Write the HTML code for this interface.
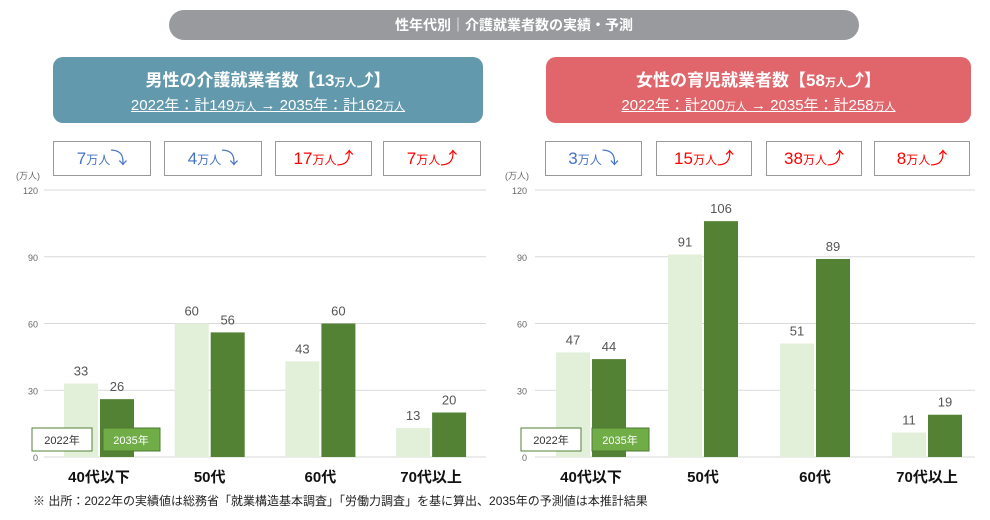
<!DOCTYPE html>
<html><head><meta charset="utf-8"><style>
body{margin:0;width:990px;height:520px;background:#fff;font-family:"Liberation Sans","Noto Sans CJK JP",sans-serif;position:relative;overflow:hidden}
.abs{position:absolute}
.pill{left:169px;top:10px;width:690px;height:30px;background:#999a9d;border-radius:15px;color:#fff;font-size:14px;font-weight:bold;text-align:center;line-height:30px}
.hdr{top:57px;height:66px;border-radius:10px;color:#fff;text-align:center}
.hdr .t{font-size:17px;font-weight:bold;margin-top:9px}
.hdr .s{font-size:15px;text-decoration:underline;margin-top:3px}
.hdr small{font-size:11px}
.chg{top:141px;height:35px;border:1px solid #999;box-sizing:border-box;text-align:center;line-height:34px;font-size:17px}
.chg small{font-size:12px}
.up{color:#f00}.dn{color:#4472c4}
.foot{left:33px;top:492px;font-size:12px;color:#222}
</style></head><body>
<div class="abs pill">性年代別｜介護就業者数の実績・予測</div>
<div class="abs hdr" style="left:53px;width:430px;background:#6399ad"><div class="t">男性の介護就業者数【13<small>万人</small>⤴】</div><div class="s">2022年：計149<small>万人</small> → 2035年：計162<small>万人</small></div></div>
<div class="abs hdr" style="left:546px;width:425px;background:#e0666b"><div class="t">女性の育児就業者数【58<small>万人</small>⤴】</div><div class="s">2022年：計200<small>万人</small> → 2035年：計258<small>万人</small></div></div>
<div class="abs chg dn" style="left:53px;width:98px">7<small>万人</small>⤵</div>
<div class="abs chg dn" style="left:164px;width:98px">4<small>万人</small>⤵</div>
<div class="abs chg up" style="left:275px;width:97px">17<small>万人</small>⤴</div>
<div class="abs chg up" style="left:383px;width:98px">7<small>万人</small>⤴</div>
<div class="abs chg dn" style="left:545px;width:97px">3<small>万人</small>⤵</div>
<div class="abs chg up" style="left:656px;width:96px">15<small>万人</small>⤴</div>
<div class="abs chg up" style="left:766px;width:96px">38<small>万人</small>⤴</div>
<div class="abs chg up" style="left:874px;width:96px">8<small>万人</small>⤴</div>
<svg class="abs" style="left:0;top:0" width="990" height="520" id="chart"></svg>
<div class="abs foot">※ 出所：2022年の実績値は総務省「就業構造基本調査」「労働力調査」を基に算出、2035年の予測値は本推計結果</div>
<script>
const categories=["40代以下","50代","60代","70代以上"];
const maleY2022=[33,60,43,13];
const maleY2035=[26,56,60,20];
const femaleY2022=[47,91,51,11];
const femaleY2035=[44,106,89,19];
const ticks=[0,30,60,90,120];
const NS="http://www.w3.org/2000/svg";
const svg=document.getElementById('chart');
function mk(t,a){const e=document.createElementNS(NS,t);for(const k in a)e.setAttribute(k,a[k]);svg.appendChild(e);return e;}
function y(v){return 457-v*(267/120);}
function draw(p){
  for(const t of ticks){
    const l=mk('line',{x1:p.gx1,x2:p.gx2,y1:y(t),y2:y(t),stroke:'#d9d9d9','stroke-width':1});
    
    
    const tx=mk('text',{x:p.lx,y:y(t)+4,'font-size':9,fill:'#666','text-anchor':'end'});
    tx.textContent=t;
    
    
  }
  const u=mk('text',{x:p.lx-22,y:179,'font-size':9,fill:'#666'});u.textContent='(万人)';
  
  
  categories.forEach((c,i)=>{
    const cx=p.c0+i*p.step;
    [[p.a,'#e2efd9',-35,'#555'],[p.b,'#548235',1,'#555']].forEach(([arr,col,off,tc])=>{
      const v=arr[i];
      const r=mk('rect',{x:cx+off,y:y(v),width:34,height:457-y(v),fill:col});
      
      
      const t=mk('text',{x:cx+off+17,y:y(v)-8,'font-size':13,fill:tc,'text-anchor':'middle'});t.textContent=v;
      
      
    });
    const ct=mk('text',{x:cx,y:482,'font-size':15,'font-weight':'bold',fill:'#111','text-anchor':'middle'});ct.textContent=c;
    
    
  });
  const g1=mk('rect',{x:p.lg,y:428,width:60,height:23,fill:'#fff',stroke:'#548235'});
  
  
  const t1=mk('text',{x:p.lg+30,y:444,'font-size':11,fill:'#333','text-anchor':'middle'});t1.textContent='2022年';
  const g2=mk('rect',{x:p.lg+71,y:428,width:57,height:23,fill:'#70ad47',stroke:'#4e7a30'});
  
  
  const t2=mk('text',{x:p.lg+99,y:444,'font-size':11,fill:'#fff','text-anchor':'middle'});t2.textContent='2035年';
}
draw({id:'male',a:maleY2022,b:maleY2035,gx1:44,gx2:486,lx:38,c0:99,step:110.7,lg:32});
draw({id:'female',a:femaleY2022,b:femaleY2035,gx1:535,gx2:975,lx:527,c0:591,step:112,lg:521});
</script>
</body></html>
